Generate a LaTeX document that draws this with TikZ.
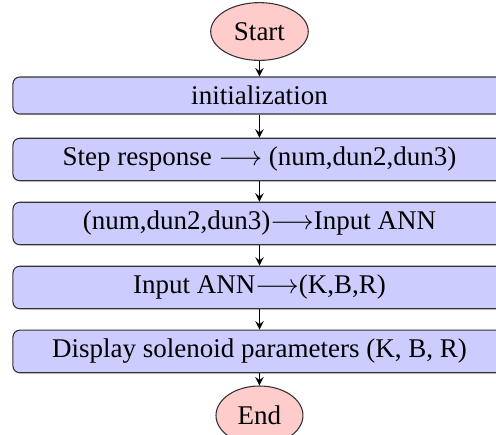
\documentclass[tikz,border=0pt]{standalone}
\usepackage{fontspec}
\setmainfont{Liberation Serif}
\usetikzlibrary{shapes.geometric}

\tikzstyle{startstop} = [ellipse, draw=black!80, fill=red!20, inner xsep=3.33pt, inner ysep=4.2pt]
\tikzstyle{process} = [rectangle, rounded corners=2.5pt, minimum width=182.6pt, text centered, draw=black!80, fill=blue!20]
\tikzstyle{arrow} = [->,>=stealth]

\begin{document}
\begin{tikzpicture}[node distance=23.7pt]

\useasboundingbox (-96.1pt,-149.4pt) rectangle (87.6pt,11.67pt);

\node (start) [startstop] {Start};

\node (init) [process, below of = start] {initialization};

\node (step) [process, below of = init] {Step response $\longrightarrow$ (num,dun2,dun3)};

\node (toann) [process, below of = step] {(num,dun2,dun3)$\longrightarrow$Input ANN};

\node (ann) [process, below of = toann] {Input ANN$\longrightarrow$(K,B,R)};

\node (display) [process, below of = ann] {Display solenoid parameters (K, B, R)};

\node (stop) [startstop, below of = display] {End};

\draw[arrow] (start) -- (init);
\draw[arrow] (init) -- (step);
\draw[arrow] (step) -- (toann);
\draw[arrow] (toann) -- (ann);
\draw[arrow] (ann) -- (display);
\draw[arrow] (display) -- (stop);

\end{tikzpicture}
\end{document}
